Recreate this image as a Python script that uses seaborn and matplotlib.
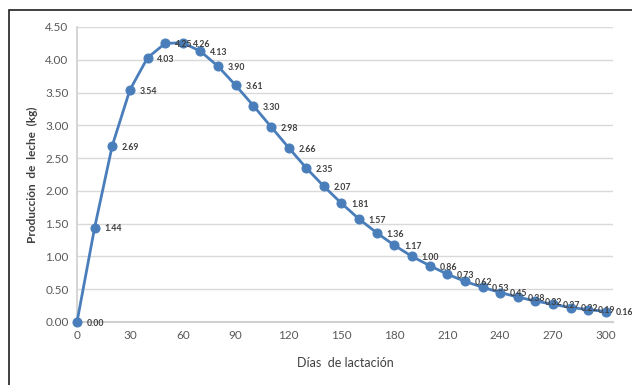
import matplotlib
matplotlib.use("Agg")
import matplotlib.pyplot as plt
import seaborn as sns
import pandas as pd
from matplotlib.patches import Rectangle

dias = [0, 10, 20, 30, 40, 50, 60, 70, 80, 90, 100, 110, 120, 130, 140, 150,
        160, 170, 180, 190, 200, 210, 220, 230, 240, 250, 260, 270, 280, 290, 300]
produccion = [0.00, 1.44, 2.69, 3.54, 4.03, 4.25, 4.26, 4.13, 3.90, 3.61, 3.30,
              2.98, 2.66, 2.35, 2.07, 1.81, 1.57, 1.36, 1.17, 1.00, 0.86, 0.73,
              0.62, 0.53, 0.45, 0.38, 0.32, 0.27, 0.22, 0.19, 0.16]
x_ticks = [0, 30, 60, 90, 120, 150, 180, 210, 240, 270, 300]
y_ticks = [0.0, 0.5, 1.0, 1.5, 2.0, 2.5, 3.0, 3.5, 4.0, 4.5]

df = pd.DataFrame({"dias": dias, "prod": produccion})

sns.set_theme(style="white")
plt.rcParams['font.family'] = ['Lato', 'DejaVu Sans']

fig = plt.figure(figsize=(6.32, 3.85), dpi=100)
ax = fig.add_axes([77/632, 1-322/385, (613-77)/632, (322-27)/385])

color = "#4A7EBB"
sns.lineplot(data=df, x="dias", y="prod", ax=ax, color=color, linewidth=2,
             marker="o", markersize=6.5, markeredgecolor=color, zorder=3,
             clip_on=False)

for xv, yv in zip(dias, produccion):
    ax.annotate(f"{yv:.2f}", (xv, yv), xytext=(7, -1), textcoords="offset points",
                ha="left", va="center", fontsize=6.3, fontweight="bold", color="#404040")

ax.set_xlim(0, 304)
ax.set_ylim(0, 4.5)
ax.set_xticks(x_ticks)
ax.set_yticks(y_ticks)
ax.set_yticklabels([f"{v:.2f}" for v in y_ticks])
ax.tick_params(axis="both", length=0, labelsize=8.5, labelcolor="#595959", pad=6)
ax.grid(axis="y", color="#D9D9D9", linewidth=1)
ax.set_axisbelow(True)
for s in ["top", "right"]:
    ax.spines[s].set_visible(False)
ax.spines["left"].set_color("#D0D0D0")
ax.spines["bottom"].set_color("#D0D0D0")
ax.spines["bottom"].set_linewidth(1.5)

ax.set_xlabel("Días  de lactación", fontsize=9, color="#404040", labelpad=11)
ax.set_ylabel("Producción  de  leche  (kg)", fontsize=8.5, fontweight="bold",
              color="#404040", labelpad=5)

fig.patches.append(Rectangle((9/632, -0.1), 1.2, 1 - 10/385 + 0.1,
                             transform=fig.transFigure, fill=False,
                             edgecolor="#202020", linewidth=1.2))

fig.savefig("out.png", dpi=100)
